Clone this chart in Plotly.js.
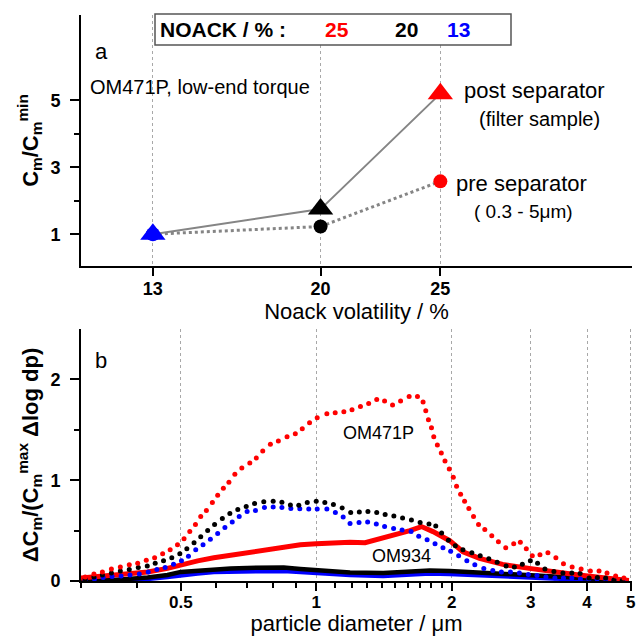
<!DOCTYPE html>
<html>
<head>
<meta charset="utf-8">
<script src="https://cdn.plot.ly/plotly-3.0.1.min.js"></script>
<style>html,body{margin:0;padding:0;background:#fff;}#chart{width:636px;height:636px;}</style>
</head>
<body>
<div id="chart"></div>
<script>
// ---------- Panel a data ----------
const noack = [13, 20, 25];
const postSeparator = [1.0, 1.75, 5.2];
const preSeparator = [1.0, 1.23, 2.58];
const noackTickVals = [13, 20, 25];
const cmTickVals = [1, 3, 5];

// ---------- Panel b data (particle diameter in µm) ----------
// OM471P, dotted
const d471_25 = [0.3065,0.3205,0.3347,0.3505,0.3669,0.3841,0.4010,0.4190,0.4373,0.4556,0.4735,0.4916,0.5084,0.5235,0.5389,0.5537,0.5700,0.5877,0.6039,0.6217,0.6396,0.6594,0.6833,0.7118,0.7357,0.7605,0.7909,0.8238,0.8613,0.8985,0.9311,0.9665,1.005,1.056,1.102,1.152,1.201,1.254,1.308,1.363,1.419,1.478,1.540,1.609,1.679,1.728,1.752,1.776,1.804,1.825,1.859,1.897,1.933,1.976,2.017,2.051,2.094,2.137,2.184,2.237,2.295,2.370,2.456,2.541,2.638,2.748,2.843,2.931,3.022,3.143,3.274,3.410,3.545,3.706,3.880,4.068,4.253,4.430,4.630,4.830];
const v471_25 = [0.04,0.07,0.09,0.12,0.14,0.16,0.175,0.205,0.23,0.27,0.31,0.36,0.42,0.49,0.56,0.64,0.70,0.78,0.85,0.92,0.98,1.06,1.12,1.17,1.22,1.29,1.356,1.39,1.43,1.46,1.51,1.57,1.62,1.66,1.67,1.68,1.70,1.73,1.76,1.80,1.785,1.745,1.785,1.83,1.83,1.775,1.69,1.60,1.52,1.43,1.35,1.27,1.19,1.11,1.03,0.94,0.86,0.79,0.72,0.64,0.56,0.51,0.45,0.39,0.33,0.37,0.385,0.32,0.25,0.26,0.28,0.23,0.17,0.14,0.12,0.10,0.10,0.08,0.05,0.03];
const d471_20 = [0.3065,0.3205,0.3347,0.3505,0.3669,0.3841,0.4022,0.4211,0.4386,0.4577,0.4775,0.4975,0.5157,0.5351,0.5537,0.5737,0.5944,0.6185,0.6427,0.6694,0.6988,0.7294,0.7646,0.8023,0.8389,0.8762,0.9147,0.9552,1.0,1.045,1.092,1.142,1.193,1.247,1.303,1.363,1.423,1.488,1.556,1.628,1.702,1.781,1.844,1.900,1.967,2.038,2.119,2.218,2.315,2.419,2.525,2.643,2.757,2.872,2.992,3.105,3.224,3.376,3.535,3.700,3.860,4.042,4.217,4.400,4.590,4.788];
const v471_20 = [0.02,0.04,0.06,0.08,0.10,0.115,0.135,0.15,0.175,0.20,0.23,0.27,0.32,0.38,0.44,0.50,0.56,0.62,0.67,0.71,0.74,0.77,0.785,0.79,0.782,0.755,0.752,0.78,0.79,0.78,0.76,0.725,0.68,0.685,0.69,0.68,0.66,0.645,0.625,0.605,0.58,0.565,0.545,0.475,0.405,0.35,0.31,0.28,0.25,0.22,0.185,0.15,0.14,0.165,0.20,0.175,0.12,0.095,0.08,0.08,0.075,0.03,0.035,0.03,0.01,0.005];
const d471_13 = [0.3065,0.3214,0.3360,0.3517,0.3683,0.3855,0.4043,0.4232,0.4424,0.4615,0.4817,0.5017,0.5200,0.5397,0.5602,0.5817,0.6039,0.6267,0.6506,0.6742,0.7021,0.7328,0.7672,0.8023,0.8389,0.8782,0.9194,0.9625,1.005,1.056,1.103,1.148,1.189,1.245,1.301,1.360,1.419,1.486,1.552,1.625,1.690,1.764,1.837,1.913,1.990,2.073,2.162,2.252,2.358,2.469,2.580,2.702,2.829,2.961,3.095,3.241,3.393,3.545,3.700,3.866,4.035,4.210,4.400,4.590,4.805];
const v471_13 = [0.01,0.02,0.035,0.045,0.05,0.06,0.07,0.09,0.115,0.135,0.165,0.20,0.245,0.31,0.36,0.415,0.47,0.53,0.585,0.64,0.69,0.70,0.73,0.735,0.73,0.72,0.717,0.715,0.715,0.715,0.68,0.635,0.57,0.58,0.585,0.565,0.54,0.52,0.505,0.49,0.445,0.41,0.37,0.33,0.295,0.25,0.20,0.16,0.125,0.105,0.09,0.09,0.08,0.065,0.055,0.04,0.03,0.03,0.03,0.02,0.02,0.02,0.02,0.01,0.01];
// OM934, solid
const d934_25 = [0.3,0.356,0.422,0.467,0.5,0.545,0.592,0.645,0.702,0.752,0.847,0.922,1.0,1.111,1.189,1.284,1.363,1.483,1.615,1.714,1.788,1.818,1.98,2.119,2.307,2.597,2.977,3.351,3.839,4.4,4.955];
const v934_25 = [0.03,0.055,0.09,0.125,0.16,0.2,0.23,0.255,0.275,0.295,0.335,0.36,0.37,0.385,0.385,0.38,0.41,0.465,0.50,0.54,0.51,0.49,0.40,0.29,0.225,0.165,0.125,0.09,0.06,0.03,0.005];
const d934 = [0.3,0.356,0.422,0.467,0.5,0.545,0.592,0.645,0.702,0.752,0.847,0.922,1.0,1.189,1.409,1.615,1.788,1.98,2.387,2.829,3.351,3.974,4.709,4.955];
const v934_20 = [0.0,0.01,0.035,0.06,0.09,0.105,0.12,0.125,0.13,0.135,0.135,0.12,0.11,0.085,0.08,0.095,0.105,0.1,0.08,0.07,0.05,0.03,0.01,0.005];
const v934_13 = [0.0,0.005,0.02,0.04,0.06,0.075,0.09,0.095,0.1,0.1,0.1,0.09,0.08,0.06,0.05,0.07,0.075,0.07,0.05,0.04,0.025,0.01,0.0,0.0];
const diamTickVals = [0.5, 1, 2, 3, 4, 5];
const diamTickText = ['0.5', '1', '2', '3', '4', '5'];
const diamMinorVals = [0.3,0.4,0.6,0.7,0.8,0.9,1.1,1.2,1.3,1.4,1.5,1.6,1.7,1.8,1.9];

// ---------- layout helpers (pixel -> paper) ----------
const W = 636, H = 636, ML = 81, MR = 4, MT = 15, MB = 55;
const px = x => (x - ML) / (W - ML - MR);
const py = y => (H - MB - y) / (H - MT - MB);

const RED = '#ff0000', BLUE = '#0000ff', BLACK = '#000000', GRAY = '#858585';
const FONT = 'Liberation Sans, Arial, Helvetica, sans-serif';

const traces = [
  // panel a
  {x: noack, y: preSeparator, xaxis: 'x', yaxis: 'y', mode: 'lines+markers',
   line: {color: GRAY, width: 3, dash: 'dot'},
   marker: {symbol: 'circle', size: 14, color: [BLUE, BLACK, RED]}},
  {x: noack, y: postSeparator, xaxis: 'x', yaxis: 'y', mode: 'lines+markers',
   line: {color: GRAY, width: 2},
   marker: {symbol: 'triangle-up', size: 22, color: [BLUE, BLACK, RED]}},
  // panel b solid (OM934)
  {x: d934, y: v934_13, xaxis: 'x2', yaxis: 'y2', mode: 'lines', line: {color: BLUE, width: 4.5}},
  {x: d934, y: v934_20, xaxis: 'x2', yaxis: 'y2', mode: 'lines', line: {color: BLACK, width: 4.5}},
  {x: d934_25, y: v934_25, xaxis: 'x2', yaxis: 'y2', mode: 'lines', line: {color: RED, width: 5}},
  // panel b dotted (OM471P)
  {x: d471_13, y: v471_13, xaxis: 'x2', yaxis: 'y2', mode: 'markers', marker: {color: BLUE, size: 5}},
  {x: d471_20, y: v471_20, xaxis: 'x2', yaxis: 'y2', mode: 'markers', marker: {color: BLACK, size: 5}},
  {x: d471_25, y: v471_25, xaxis: 'x2', yaxis: 'y2', mode: 'markers', marker: {color: RED, size: 5}}
];

const axisCommon = {
  showline: true, linecolor: BLACK, linewidth: 2, zeroline: false,
  ticks: 'outside', ticklen: 9, tickwidth: 2, tickcolor: BLACK,
  tickfont: {family: FONT, size: 18, color: BLACK, weight: 'bold'}
};
const gridX = {showgrid: true, gridcolor: '#a8a8a8', gridwidth: 1, griddash: 'dot'};

const layout = {
  width: W, height: H,
  margin: {l: ML, r: MR, t: MT, b: MB},
  paper_bgcolor: '#fff', plot_bgcolor: '#fff',
  showlegend: false,
  font: {family: FONT, color: BLACK},
  xaxis: Object.assign({}, axisCommon, gridX, {
    anchor: 'y', domain: [0, 1], range: [10, 33], ticklabelstandoff: -3, ticklen: 8,
    tickmode: 'array', tickvals: noackTickVals,
    title: {text: 'Noack volatility / %', font: {family: FONT, size: 22}, standoff: 0}
  }),
  yaxis: Object.assign({}, axisCommon, {
    anchor: 'x', domain: [py(266), 1], range: [0.05, 7.55], showgrid: false, ticklabelstandoff: 6,
    tickmode: 'array', tickvals: cmTickVals,
    minor: {tickvals: [2, 4], ticklen: 5, tickwidth: 2, tickcolor: BLACK, ticks: 'outside', showgrid: false},
    title: {text: 'C<sub>m</sub>/C<sub>m</sub><sup>min</sup>', font: {family: FONT, size: 22, weight: 'bold'}, standoff: 6}
  }),
  xaxis2: Object.assign({}, axisCommon, gridX, {
    anchor: 'y2', domain: [0, 1], type: 'log', range: [Math.log10(0.3), Math.log10(5) + 0.003],
    ticklabelstandoff: -3, ticklen: 8, ticklabeloverflow: 'allow',
    tickfont: {family: FONT, size: 17, color: BLACK, weight: 'bold'},
    tickmode: 'array', tickvals: diamTickVals, ticktext: diamTickText,
    minor: {tickvals: diamMinorVals, ticklen: 5, tickwidth: 2, tickcolor: BLACK, ticks: 'outside', showgrid: false},
    title: {text: 'particle diameter / \u03bcm', font: {family: FONT, size: 22}, standoff: 0}
  }),
  yaxis2: Object.assign({}, axisCommon, {
    anchor: 'x2', domain: [0, py(329)], range: [0, 2.5], showgrid: false, ticklabelstandoff: 6,
    tickmode: 'array', tickvals: [0, 1, 2],
    minor: {tickvals: [0.5, 1.5], ticklen: 5, tickwidth: 2, tickcolor: BLACK, ticks: 'outside', showgrid: false},
    title: {text: '\u0394C<sub>m</sub>/(C<sub>m</sub><sup>max</sup> \u0394log dp)', font: {family: FONT, size: 22, weight: 'bold'}, standoff: 6}
  }),
  shapes: [
    {type: 'rect', xref: 'paper', yref: 'paper', x0: px(155), x1: px(511), y0: py(45), y1: py(14),
     line: {color: '#555', width: 1.5}, fillcolor: '#fff', layer: 'above'}
  ],
  annotations: [
    {text: '<b>NOACK / % :</b>', x: px(158), y: py(30), xanchor: 'left', font: {size: 21, color: BLACK}},
    {text: '<b>25</b>', x: px(337), y: py(30), font: {size: 21, color: RED}},
    {text: '<b>20</b>', x: px(406), y: py(30), font: {size: 21, color: BLACK}},
    {text: '<b>13</b>', x: px(472), y: py(30), font: {size: 21, color: BLUE}},
    {text: 'a', x: px(93), y: py(51), xanchor: 'left', font: {size: 22}},
    {text: 'OM471P, low-end torque', x: px(88), y: py(87), xanchor: 'left', font: {size: 20}},
    {text: 'post separator', x: px(462), y: py(91), xanchor: 'left', font: {size: 22}},
    {text: '(filter sample)', x: px(477), y: py(119), xanchor: 'left', font: {size: 20}},
    {text: 'pre separator', x: px(454), y: py(183), xanchor: 'left', font: {size: 22}},
    {text: '( 0.3 - 5\u03bcm)', x: px(472), y: py(211), xanchor: 'left', font: {size: 19}},
    {text: 'b', x: px(93), y: py(360), xanchor: 'left', font: {size: 22}},
    {text: 'OM471P', x: px(378), y: py(433), font: {size: 18}},
    {text: 'OM934', x: px(401), y: py(556), font: {size: 18}}
  ].map(a => Object.assign({xref: 'paper', yref: 'paper', showarrow: false, yanchor: 'middle'}, a,
        {font: Object.assign({family: FONT, color: BLACK}, a.font)}))
};

Plotly.newPlot('chart', traces, layout, {staticPlot: true, displayModeBar: false});
</script>
</body>
</html>
